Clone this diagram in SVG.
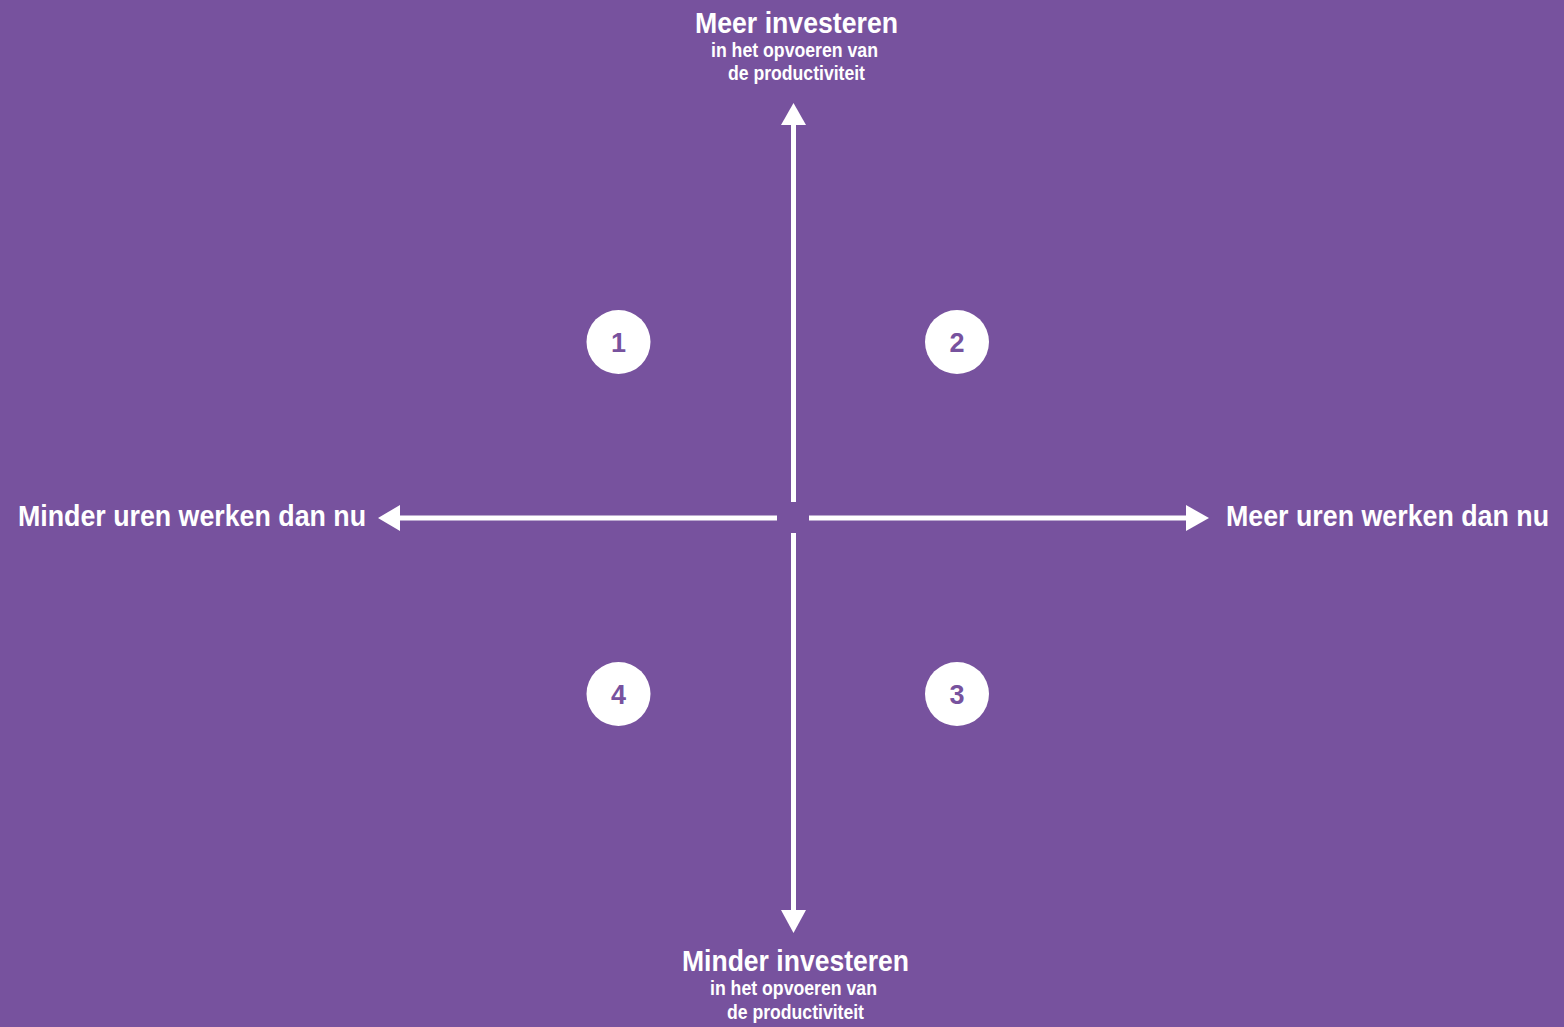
<svg xmlns="http://www.w3.org/2000/svg" width="1564" height="1027" viewBox="0 0 1564 1027">
<style>
.lbl{font-family:"Liberation Sans",Arial,sans-serif;font-weight:bold;fill:#fff}
.big{font-size:30px}
.sm{font-size:20px}
.num{font-family:"Liberation Sans",Arial,sans-serif;font-weight:bold;font-size:27px;fill:#77529e;text-anchor:middle}
.ax{stroke:#fff;stroke-width:5;fill:none}
.head{fill:#fff}
</style>
<rect width="1564" height="1027" fill="#77529e"/>
<g id="connectors">
<line class="ax" x1="793.5" y1="124" x2="793.5" y2="502"/>
<polygon class="head" points="793.5,103 781,125 806,125"/>
<line class="ax" x1="793.5" y1="533" x2="793.5" y2="912"/>
<polygon class="head" points="793.5,933 781,910 806,910"/>
<line class="ax" x1="399" y1="518" x2="777" y2="518"/>
<polygon class="head" points="378,518 400,505 400,531"/>
<line class="ax" x1="809" y1="518" x2="1187" y2="518"/>
<polygon class="head" points="1209,518 1186,505 1186,531"/>
</g>
<g id="top-label">
<text class="lbl big" x="695" y="33" textLength="203" lengthAdjust="spacingAndGlyphs">Meer investeren</text>
<text class="lbl sm" x="711" y="57" textLength="167" lengthAdjust="spacingAndGlyphs">in het opvoeren van</text>
<text class="lbl sm" x="728" y="80" textLength="137" lengthAdjust="spacingAndGlyphs">de productiviteit</text>
</g>
<g id="bottom-label">
<text class="lbl big" x="682" y="971" textLength="227" lengthAdjust="spacingAndGlyphs">Minder investeren</text>
<text class="lbl sm" x="710" y="995" textLength="167" lengthAdjust="spacingAndGlyphs">in het opvoeren van</text>
<text class="lbl sm" x="727" y="1019" textLength="137" lengthAdjust="spacingAndGlyphs">de productiviteit</text>
</g>
<g id="left-label">
<text class="lbl big" x="18" y="526" textLength="348" lengthAdjust="spacingAndGlyphs">Minder uren werken dan nu</text>
</g>
<g id="right-label">
<text class="lbl big" transform="translate(1226,526) scale(0.893,1)" x="0" y="0">Meer uren werken dan nu</text>
</g>
<g id="q1"><circle cx="618.5" cy="342" r="32" fill="#fff"/><text class="num" x="618.5" y="352">1</text></g>
<g id="q2"><circle cx="957" cy="342" r="32" fill="#fff"/><text class="num" x="957" y="352">2</text></g>
<g id="q3"><circle cx="957" cy="694" r="32" fill="#fff"/><text class="num" x="957" y="704">3</text></g>
<g id="q4"><circle cx="618.5" cy="694" r="32" fill="#fff"/><text class="num" x="618.5" y="704">4</text></g>
</svg>
